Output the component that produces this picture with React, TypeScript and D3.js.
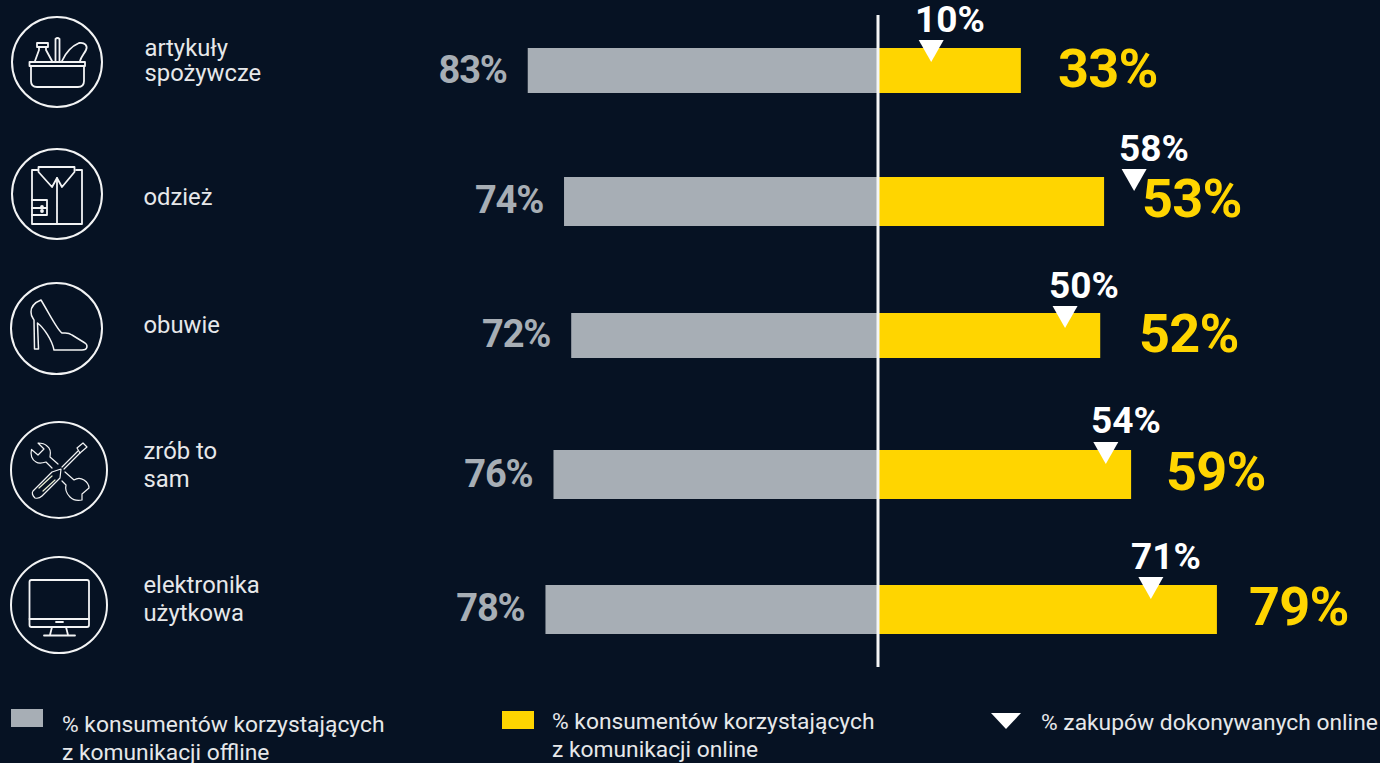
import React from "react";
import * as d3 from "d3";

// ---- data
const categories = [["artykuły", "spożywcze"], ["odzież"], ["obuwie"], ["zrób to", "sam"], ["elektronika", "użytkowa"]];
const offlineLabels = [83, 74, 72, 76, 78];
const onlineLabels = [33, 53, 52, 59, 79];
const purchaseLabels = [10, 58, 50, 54, 71];
// bar and marker extents as they are drawn in the picture (in % units)
const offlineDrawn = [83, 74.4, 72.7, 76.9, 78.8];
const onlineDrawn = [33.3, 52.7, 51.8, 59, 79];
const purchaseDrawn = [12.4, 59.7, 43.6, 53.1, 63.6];
const legendOffline = ["% konsumentów korzystających", "z komunikacji offline"];
const legendOnline = ["% konsumentów korzystających", "z komunikacji online"];
const legendPurchase = "% zakupów dokonywanych online";

// ---- layout
const W = 1380, H = 763, AXIS = 878;
const barTop = [48, 177, 313, 450, 585];
const barBottom = [93, 226, 358, 499, 634];
const triTop = [40, 169, 306, 442, 577];
const grayBase = [83, 213, 347, 487, 621];
const yellowBase = [87, 217, 352, 490, 625];
const whiteBase = [32, 161, 298, 433, 569];
const yellowX = [1058, 1142, 1139, 1166, 1249];
const whiteX = [950, 1154, 1084, 1126, 1166];
const catX = [144.5, 143.5, 143.5, 143.5, 143.5];
const catBase = [[56, 81], [205], [333], [459, 487], [593, 621]];

const BG = "#061223", GRAY = "#A7AEB5", YEL = "#FFD500", INK = "#E6E8EA";
const FONT = "Roboto, sans-serif";

const left = d3.scaleLinear().domain([0, 100]).range([AXIS, AXIS - 422]);
const right = d3.scaleLinear().domain([0, 100]).range([AXIS, AXIS + 429]);
const triPath = d3.line()([[-12.5, 0], [12.5, 0], [0, 22]]) + "Z";

const ico = { fill: "none", stroke: "#F2F3F4", strokeWidth: 1.8, strokeLinejoin: "round" as const, strokeLinecap: "round" as const };

function Icons() {
  return (
    <g {...ico}>
      <circle cx={57} cy={62} r={45} strokeWidth={2} />
      <path d="M29.5 62H85V66H29.5Z" />
      <path d="M31 66V81Q31 87 37 87H78Q84 87 84 81V66" />
      <path d="M37 43H48V47H37ZM39 47V50L35 61M46 47V50L52 61" />
      <path d="M55.5 62V39Q57.5 37 59.5 39V62" />
      <path d="M62 61C66 52 72 46 79 43C85 42 88 46 86 50C84 54 81 57 80 61" />

      <circle cx={57} cy={194} r={45} strokeWidth={2} />
      <path d="M38 170H32V224H82V170H76" />
      <path d="M38.5 167H74.5V172L62 187L57 178L52 187L38.5 172Z" />
      <path d="M57 178V224M32 200H47V215H32M32 208H47" />
      <circle cx={42} cy={207} r={1} /><circle cx={42} cy={211} r={1} />

      <circle cx={56.5} cy={328.5} r={45.5} strokeWidth={2} />
      <path strokeWidth={1.5} d="M41 300C36 302 31 306 31 312C31 317 33 318 34 320L34.5 349H38.5L37.5 323C44 328 52 340 54 350H82C88 350 88 345 85 343L72 335C68 332 66 333 62 333C58 331 50 315 41 300Z" />

      <circle cx={59} cy={470} r={48} strokeWidth={2} />
      <g strokeWidth={1.2}>
        <path d="M87 447L83 443L77 448L80 453Z" />
        <path d="M78 451L62 467M80 453L64 469" />
        <path d="M61 469L52 472L33 491Q31 494 35 498Q39 499 42 496L60 478Z" />
        <path d="M39 488L52 476M43 491L55 480" stroke="#E8EDD0" />
        <path d="M58 464L50 457C51 452 50 448 47 446C44 443 41 443 38 443L44 449L38 455L31.5 449.5C30 455 32 460 36 462C39 464 43 463 46 462L52 468" />
        <path d="M65 472L74 480C77 478 81 478 84 480C87 482 89 485 89 488L82 494L82 500C77 501 73 500 70 497C66 493 65 489 66 485L62 481" />
      </g>

      <circle cx={59} cy={605} r={48} strokeWidth={2} />
      <rect x={29.5} y={580} width={59.5} height={47} rx={2} />
      <path d="M29.5 619H89M56 622H63M52 627L50 635M66 627L68 635M44 635.5H75" />
    </g>
  );
}

export default function App() {
  return (
    <svg width={W} height={H} viewBox={`0 0 ${W} ${H}`} style={{ position: "fixed", left: 0, top: 0, display: "block", background: BG }}>
      <rect width={W} height={H} fill={BG} />
      <Icons />
      {categories.map((lines, i) =>
        lines.map((t, j) => (
          <text key={t} x={catX[i]} y={catBase[i][j]} fill={INK} fontFamily={FONT} fontSize={23.8}>{t}</text>
        ))
      )}
      {offlineDrawn.map((v, i) => (
        <rect key={i} x={left(v)} y={barTop[i]} width={AXIS - left(v)} height={barBottom[i] - barTop[i]} fill={GRAY} />
      ))}
      {onlineDrawn.map((v, i) => (
        <rect key={i} x={AXIS} y={barTop[i]} width={right(v) - AXIS} height={barBottom[i] - barTop[i]} fill={YEL} />
      ))}
      <line x1={AXIS} x2={AXIS} y1={15} y2={667} stroke="#F4F5F6" strokeWidth={3} />
      {purchaseDrawn.map((v, i) => (
        <path key={i} d={triPath} transform={`translate(${right(v)},${triTop[i]})`} fill="#fff" />
      ))}
      {offlineLabels.map((v, i) => (
        <text key={i} x={left(offlineDrawn[i]) - 21} y={grayBase[i]} textAnchor="end" fill={GRAY} fontFamily={FONT} fontWeight={700} fontSize={38} letterSpacing={-1.2}>{v}%</text>
      ))}
      {onlineLabels.map((v, i) => (
        <text key={i} x={yellowX[i]} y={yellowBase[i]} fill={YEL} fontFamily={FONT} fontWeight={700} fontSize={54} letterSpacing={-0.8}>{v}%</text>
      ))}
      {purchaseLabels.map((v, i) => (
        <text key={i} x={whiteX[i]} y={whiteBase[i]} textAnchor="middle" fill="#fff" fontFamily={FONT} fontWeight={700} fontSize={37}>{v}%</text>
      ))}
      {/* legend */}
      <rect x={11} y={709} width={32} height={18} fill={GRAY} />
      {legendOffline.map((t, j) => (
        <text key={j} x={62} y={732 + j * 28} fill={INK} fontFamily={FONT} fontSize={22.8}>{t}</text>
      ))}
      <rect x={502} y={711} width={32} height={18} fill={YEL} />
      {legendOnline.map((t, j) => (
        <text key={j} x={552} y={729 + j * 28} fill={INK} fontFamily={FONT} fontSize={22.8}>{t}</text>
      ))}
      <path d={d3.line()([[991, 713], [1021, 713], [1006, 729]]) + "Z"} fill="#fff" />
      <text x={1041} y={730} fill={INK} fontFamily={FONT} fontSize={22.8}>{legendPurchase}</text>
    </svg>
  );
}
